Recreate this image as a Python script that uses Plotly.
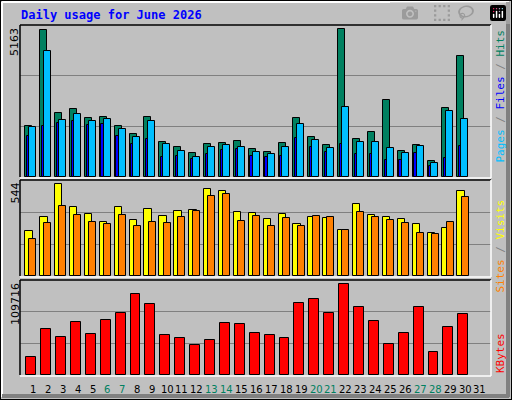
import plotly.graph_objects as go

days = list(range(1, 31))
day_labels = [str(i) for i in range(1, 32)]
weekend = {6, 7, 13, 14, 20, 21, 27, 28}
hits = [1799, 5140, 2254, 2371, 2079, 2114, 1799, 1518, 2114, 1238, 1063, 853, 1168, 1203, 1273,
        993, 888, 1203, 2079, 1413, 1133, 5163, 1343, 1588, 2686, 923, 1133, 572, 2429, 4216]
files = [1764, 4392, 2009, 2219, 1974, 2044, 1694, 1413, 1974, 1168, 923, 712, 1063, 1133, 1063,
         888, 818, 1063, 1869, 1308, 1028, 2464, 1238, 1238, 1028, 853, 1098, 502, 2324, 2044]
pages = [1448, 1799, 1904, 1974, 1834, 1869, 1448, 1168, 1343, 712, 748, 642, 818, 958, 993,
         748, 712, 748, 1378, 1063, 888, 1168, 818, 818, 607, 607, 853, 397, 677, 1098]
visits = [266, 349, 544, 408, 367, 319, 408, 331, 396, 355, 384, 390, 514, 503, 378,
          372, 337, 367, 307, 349, 343, 272, 426, 361, 349, 337, 307, 254, 284, 503]
sites = [219, 313, 414, 361, 319, 307, 361, 296, 319, 313, 349, 384, 473, 485, 325,
         355, 296, 343, 296, 355, 349, 272, 378, 349, 331, 313, 254, 248, 319, 467]
kbytes = [21703, 55462, 45817, 63902, 49434, 66314, 74753, 97662, 85605, 48228, 44611, 36171, 42200,
          62696, 61491, 50639, 48228, 44611, 86810, 91633, 74753, 109716, 81988, 65108, 37377,
          50639, 81988, 27731, 57874, 73548]

W, H = 512, 400
def py(p):
    return 1 - p / H
def px(p):
    return p / W

fig = go.Figure()
line = dict(color="black", width=1)

def bars(vals, off, w, color, yaxis):
    fig.add_trace(go.Bar(x=[d + off for d in days], y=vals, width=w, marker=dict(color=color, line=line),
                         yaxis=yaxis, hoverinfo="y", showlegend=False))

bars(hits, -0.285, 0.47, "#008060", "y")
bars(pages, -0.32, 0.17, "#0000ff", "y")
bars(files, -0.02, 0.47, "#00bfff", "y")
bars(visits, -0.27, 0.5, "#ffff00", "y2")
bars(sites, 0.0, 0.47, "#ff8000", "y2")
bars(kbytes, -0.12, 0.67, "#ff0000", "y3")

r1, r2, r3 = 5314, 568, 114541
gcol = "#808080"
def yax(dom, rng):
    return dict(domain=dom, range=[0, rng], tickvals=[rng / 3, 2 * rng / 3], showticklabels=False,
                showgrid=True, gridcolor=gcol, gridwidth=1, zeroline=False, fixedrange=True)

fig.update_layout(
    width=W, height=H, margin=dict(l=0, r=0, t=0, b=0),
    paper_bgcolor="#c0c0c0", plot_bgcolor="#c0c0c0", barmode="overlay", bargap=0,
    xaxis=dict(domain=[px(20), px(491)], range=[0.128, 31.74], showticklabels=False, showgrid=False,
               zeroline=False, fixedrange=True, anchor="y3"),
    yaxis=dict(yax([py(177), py(25)], r1)),
    yaxis2=dict(yax([py(276), py(180)], r2)),
    yaxis3=dict(yax([py(375), py(280)], r3)),
)

shapes = []
shapes.append(dict(type="rect", xref="paper", yref="paper", x0=0, y0=0, x1=1, y1=1,
                   line=dict(color="black", width=2)))
shapes.append(dict(type="line", xref="paper", yref="paper", x0=px(2), x1=px(509), y0=py(2), y1=py(2),
                   line=dict(color="white", width=2)))
shapes.append(dict(type="line", xref="paper", yref="paper", x0=px(2), x1=px(2), y0=py(2), y1=py(397),
                   line=dict(color="white", width=2)))
shapes.append(dict(type="line", xref="paper", yref="paper", x0=px(2), x1=px(509), y0=py(396), y1=py(396),
                   line=dict(color="#808080", width=4)))
shapes.append(dict(type="line", xref="paper", yref="paper", x0=px(508), x1=px(508), y0=py(2), y1=py(397),
                   line=dict(color="#808080", width=4)))
for top, bot in [(25, 177), (180, 276), (280, 375)]:
    shapes.append(dict(type="line", xref="paper", yref="paper", x0=px(20), x1=px(491), y0=py(top), y1=py(top),
                       line=dict(color="black", width=1.5)))
    shapes.append(dict(type="line", xref="paper", yref="paper", x0=px(20), x1=px(20), y0=py(top), y1=py(bot),
                       line=dict(color="black", width=1.5)))
    shapes.append(dict(type="line", xref="paper", yref="paper", x0=px(20), x1=px(491), y0=py(bot + 1), y1=py(bot + 1),
                       line=dict(color="white", width=1.5)))
    shapes.append(dict(type="line", xref="paper", yref="paper", x0=px(491), x1=px(491), y0=py(top), y1=py(bot + 1),
                       line=dict(color="white", width=1.5)))
fig.update_layout(shapes=shapes)

ann = []
ann.append(dict(text="<b>Daily usage for June 2026</b>", x=px(19), y=py(15), xref="paper", yref="paper",
                xanchor="left", yanchor="middle", showarrow=False,
                font=dict(family="DejaVu Sans Mono", size=12, color="#0000ff")))
for lab, ytop in [("5163", 26), ("544", 181), ("109716", 281)]:
    ann.append(dict(text=lab, x=px(15), y=py(ytop), xref="paper", yref="paper", textangle=-90,
                    xanchor="center", yanchor="top", showarrow=False,
                    font=dict(family="DejaVu Sans", size=11, color="black")))
ann.append(dict(text='<span style="color:#00bfff">Pages</span><span style="color:#808080"> / </span>'
                     '<span style="color:#0000ff">Files</span><span style="color:#808080"> / </span>'
                     '<span style="color:#008060">Hits</span>',
                x=px(500), y=py(28), xref="paper", yref="paper", textangle=-90, xanchor="center",
                yanchor="top", showarrow=False, font=dict(family="DejaVu Sans Mono", size=11)))
ann.append(dict(text='<span style="color:#ff8000">Sites</span><span style="color:#808080"> / </span>'
                     '<span style="color:#ffff00">Visits</span>',
                x=px(500), y=py(198), xref="paper", yref="paper", textangle=-90, xanchor="center",
                yanchor="top", showarrow=False, font=dict(family="DejaVu Sans Mono", size=11)))
ann.append(dict(text='<span style="color:#ff0000">KBytes</span>',
                x=px(500), y=py(375), xref="paper", yref="paper", textangle=-90, xanchor="center",
                yanchor="bottom", showarrow=False, font=dict(family="DejaVu Sans Mono", size=11)))
for i, lab in enumerate(day_labels, start=1):
    ann.append(dict(text=lab, x=i, y=py(389), xref="x", yref="paper", xanchor="center", yanchor="middle",
                    showarrow=False,
                    font=dict(family="DejaVu Sans", size=10, color="#008060" if i in weekend else "black")))
fig.update_layout(annotations=ann)

fig.write_html("out.html")
with open("out.html", encoding="utf-8") as f:
    html = f.read()
html = html.replace("<head>", "<head><style>html,body{margin:0;padding:0;overflow:hidden;}</style>", 1)
with open("out.html", "w", encoding="utf-8") as f:
    f.write(html)
